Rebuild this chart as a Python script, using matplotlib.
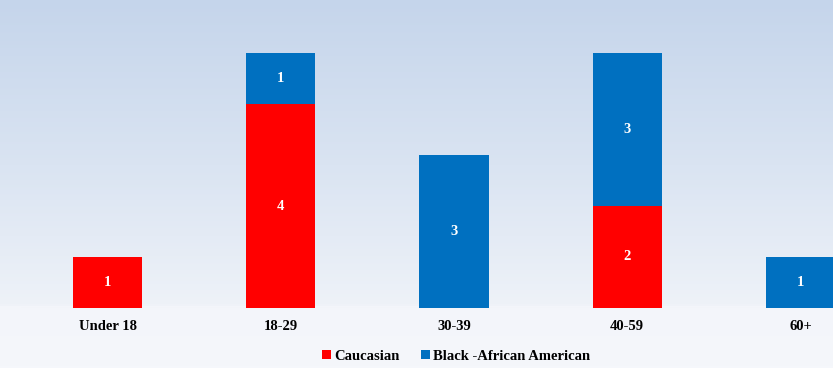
import numpy as np
import matplotlib
matplotlib.use("Agg")
import matplotlib.pyplot as plt
from matplotlib.colors import LinearSegmentedColormap

# Age groups and counts per group
age_groups = ["Under 18", "18-29", "30-39", "40-59", "60+"]
caucasian = [1, 4, 0, 2, 0]
black_african_american = [0, 1, 3, 3, 1]

RED = "#FF0000"
BLUE = "#0070C0"
FONT = ["Liberation Serif", "DejaVu Serif"]

fig = plt.figure(figsize=(8.33, 3.68), dpi=100)

# soft blue-to-white gradient behind everything
bg = fig.add_axes([0, 0, 1, 1], zorder=-1)
cmap = LinearSegmentedColormap.from_list(
    "bg", [(0.0, "#C5D5EB"), (0.45, "#DAE4F2"), (0.83, "#EEF2F8"), (0.835, "#F3F5FA"), (1.0, "#F5F7FB")])
grad = np.linspace(0, 1, 368)[:, None]
bg.imshow(grad, aspect="auto", cmap=cmap, extent=[0, 1, 0, 1], origin="upper")
bg.axis("off")

# plot area runs past the right edge so the last bar is clipped
W, H = 833, 368
ax = fig.add_axes([21 / W, 60 / H, 866 / W, 306 / H])
ax.patch.set_alpha(0)
x = np.arange(len(age_groups))
width = 0.4

b1 = ax.bar(x, caucasian, width, color=RED, label="Caucasian", zorder=3)
b2 = ax.bar(x, black_african_american, width, bottom=caucasian, color=BLUE,
            label="Black -African American", zorder=3)

for bars, vals, base in [(b1, caucasian, [0] * 5), (b2, black_african_american, caucasian)]:
    for rect, v, b in zip(bars, vals, base):
        if v == 0:
            continue
        ax.text(rect.get_x() + rect.get_width() / 2, b + v / 2, str(v),
                ha="center", va="center", color="white", fontweight="bold",
                fontsize=10.5, family=FONT, zorder=4)

ax.set_xlim(-0.5, 4.5)
ax.set_ylim(0, 6)
ax.set_xticks(x)
ax.set_xticklabels(age_groups, fontweight="bold", fontsize=10.5, family=FONT)
ax.tick_params(axis="x", length=0, pad=9)
ax.set_yticks([])
for s in ax.spines.values():
    s.set_visible(False)
ax.axhline(0, color="#E6EBF3", linewidth=0.8, zorder=2)

leg = fig.legend(handles=[b1, b2], loc="center", bbox_to_anchor=(456 / W, 1 - 356 / H),
                 ncol=2, frameon=False, handlelength=0.6, handleheight=0.6,
                 handletextpad=0.2, columnspacing=1.5,
                 prop={"family": FONT, "weight": "bold", "size": 10.5})

fig.savefig("out.png", dpi=100)
